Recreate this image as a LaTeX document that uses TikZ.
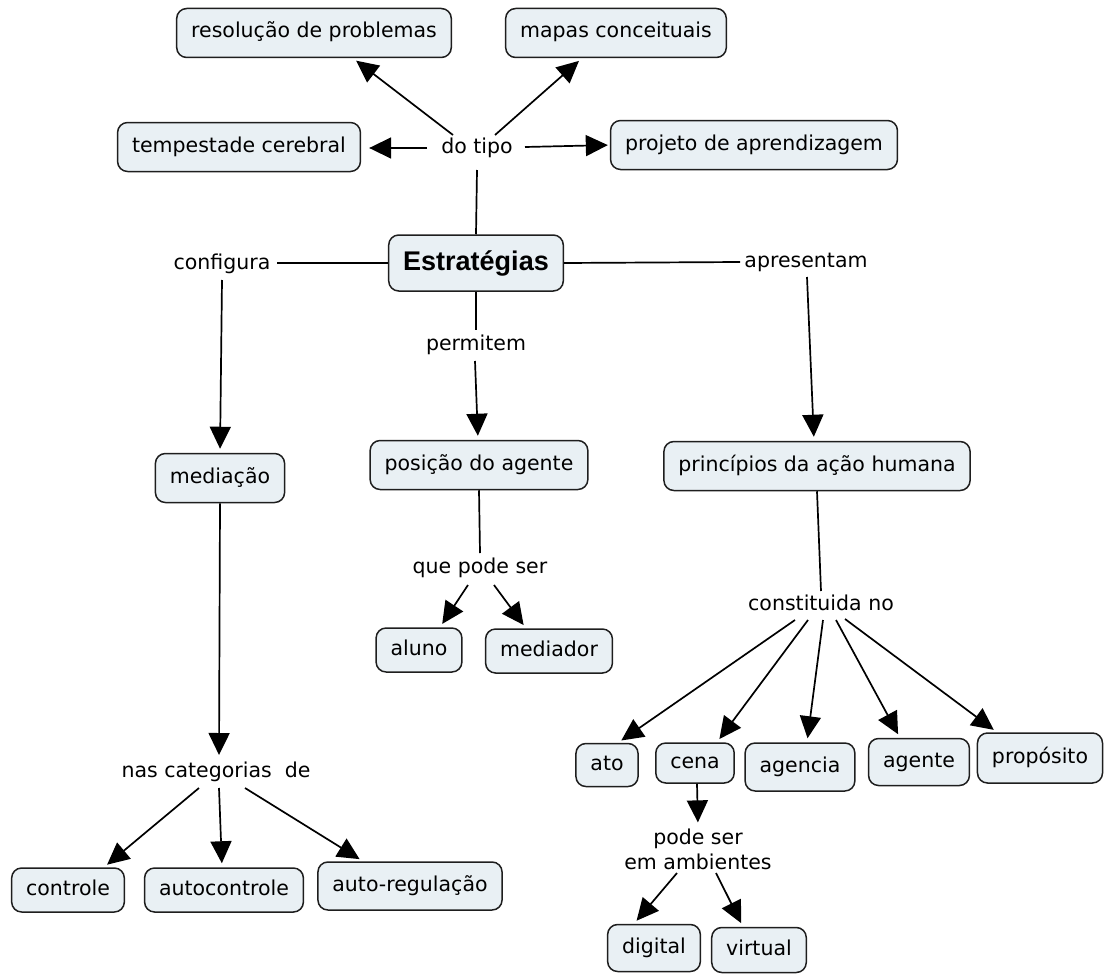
\documentclass[tikz,border=0pt]{standalone}
\usepackage{fontspec}
\setmainfont{DejaVu Sans}
\newfontfamily\titlefont{Liberation Sans}
\usetikzlibrary{arrows.meta,calc}

\definecolor{boxfill}{HTML}{E9F0F4}
\definecolor{boxline}{HTML}{1E1E1E}

\tikzset{
  concept/.style={draw=boxline, line width=1.5pt, rounded corners=10pt, fill=boxfill,
    inner xsep=14.5pt, inner ysep=10pt, text height=15pt, text depth=5pt,
    minimum height=46pt, font=\fontsize{20.5}{25}\selectfont},
  linkword/.style={inner sep=2pt, text height=15pt, text depth=5pt,
    font=\fontsize{20.5}{25}\selectfont},
  link/.style={line width=1.7pt, draw=black},
  arrowlink/.style={link, -{Triangle[length=22pt,width=21pt]}, shorten >=4pt},
}

\begin{document}
\begin{tikzpicture}[x=1pt,y=-1pt]
\useasboundingbox (0,0) rectangle (1106,974);

% concepts
\node[concept, minimum height=56pt, inner ysep=12pt, text height=20pt, text depth=6pt,
      font=\titlefont\bfseries\fontsize{27}{32}\selectfont] (estr) at (476,263) {Estratégias};
\node[concept, minimum height=49pt] (res)  at (314,33)  {resolução de problemas};
\node[concept, minimum height=49pt] (map)  at (616,33)  {mapas conceituais};
\node[concept, minimum height=49pt] (temp) at (239,147) {tempestade cerebral};
\node[concept, minimum height=49pt] (proj) at (754,145) {projeto de aprendizagem};
\node[concept, minimum height=49pt] (med)  at (220,478) {mediação};
\node[concept, minimum height=49pt] (pos)  at (479,465) {posição do agente};
\node[concept, minimum height=49pt] (pri)  at (817,466) {princípios da ação humana};
\node[concept, minimum height=44pt] (alu)  at (419,650) {aluno};
\node[concept, minimum height=44pt] (mdr)  at (549,651) {mediador};
\node[concept, minimum height=43pt] (ato)  at (607,765) {ato};
\node[concept, minimum height=39pt] (cena) at (695,763) {cena};
\node[concept, minimum height=48pt] (agc)  at (800,767) {agencia};
\node[concept, minimum height=47pt] (agt)  at (919,762) {agente};
\node[concept, minimum height=50pt] (prop) at (1040,758) {propósito};
\node[concept, minimum height=47pt] (dig)  at (654,948) {digital};
\node[concept, minimum height=45pt] (vir)  at (759,950) {virtual};
\node[concept, minimum height=44pt] (ctl)  at (68,890)  {controle};
\node[concept, minimum height=44pt] (actl) at (224,890) {autocontrole};
\node[concept, minimum height=48pt] (areg) at (410,886) {auto-regulação};

% linking words
\node[linkword] (dotipo) at (477,148) {do tipo};
\node[linkword] (conf)   at (222,264) {configura};
\node[linkword] (apr)    at (806,262) {apresentam};
\node[linkword] (perm)   at (476,345) {permitem};
\node[linkword] (qp)     at (480,568) {que pode ser};
\node[linkword] (cn)     at (821,605) {constituida no};
\node[linkword] (nas)    at (216,772) {nas categorias\ \ de};
\node[inner sep=2pt, align=center, font=\fontsize{20.5}{25}\selectfont] (ps) at (698,849) {pode ser\\em ambientes};

% Estratégias -- do tipo -> kinds
\draw[link] (estr.north) -- ($(dotipo)+(0,22)$);
\draw[arrowlink] ($(dotipo)+(-24,-13)$) -- ($(res.south)+(39,0)$);
\draw[arrowlink] ($(dotipo)+(18,-13)$) -- ($(map.south)+(-34,0)$);
\draw[arrowlink] ($(dotipo)+(-50,0)$) -- ($(temp.east)+(4,1)$);
\draw[arrowlink] ($(dotipo)+(48,-1)$) -- ($(proj.west)+(2,0)$);

% configura -> mediação -> nas categorias de
\draw[link] (estr.west) -- ($(conf)+(55,-1)$);
\draw[arrowlink] ($(conf)+(0,16)$) -- (med.north);
\draw[arrowlink] (med.south) -- ($(nas)+(3,-13)$);
\draw[arrowlink] ($(nas)+(-17,16)$) -- ($(ctl.north)+(36,0)$);
\draw[arrowlink] ($(nas)+(3,16)$) -- ($(actl.north)+(-2,0)$);
\draw[arrowlink] ($(nas)+(29,16)$) -- ($(areg.north)+(-47,0)$);

% permitem -> posição do agente -> que pode ser
\draw[link] (estr.south) -- ($(perm)+(0,-15)$);
\draw[arrowlink] ($(perm)+(-1,16)$) -- ($(pos.north)+(-1,0)$);
\draw[link] (pos.south) -- ($(qp)+(0,-15)$);
\draw[arrowlink] ($(qp)+(-12,17)$) -- ($(alu.north)+(21,0)$);
\draw[arrowlink] ($(qp)+(14,17)$) -- ($(mdr.north)+(-23,0)$);

% apresentam -> princípios -> constituida no
\draw[link] (estr.east) -- ($(apr)+(-66,0)$);
\draw[arrowlink] ($(apr)+(1,15)$) -- ($(pri.north)+(-3,0)$);
\draw[link] (pri.south) -- ($(cn)+(0,-14)$);
\draw[arrowlink] ($(cn)+(-26,15)$) -- ($(ato.north)+(11,0)$);
\draw[arrowlink] ($(cn)+(-13,15)$) -- ($(cena.north)+(22,0)$);
\draw[arrowlink] ($(cn)+(2,15)$) -- ($(agc.north)+(7,0)$);
\draw[arrowlink] ($(cn)+(15,15)$) -- ($(agt.north)+(-19,0)$);
\draw[arrowlink] ($(cn)+(24,14)$) -- ($(prop.north)+(-43,0)$);

% cena -> pode ser em ambientes
\draw[arrowlink] ($(cena.south)+(2,0)$) -- (ps.north);
\draw[arrowlink] ($(ps)+(-21,24)$) -- ($(dig.north)+(-20,0)$);
\draw[arrowlink] ($(ps)+(18,24)$) -- ($(vir.north)+(-16,0)$);
\end{tikzpicture}
\end{document}
